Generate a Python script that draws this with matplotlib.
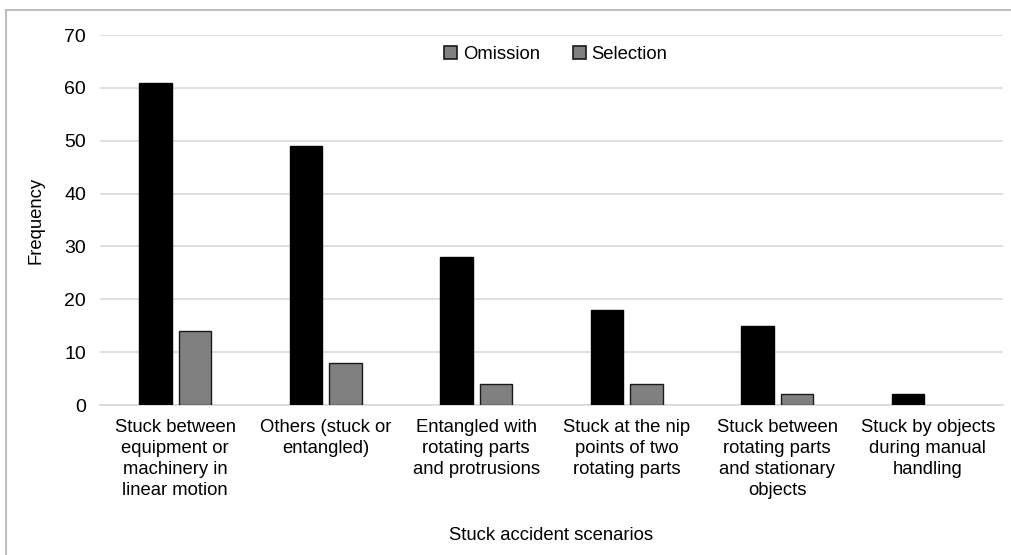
import matplotlib
matplotlib.use("Agg")
import matplotlib.pyplot as plt
from matplotlib.patches import Rectangle, Patch
import numpy as np

plt.rcParams['font.family'] = ['Liberation Sans', 'DejaVu Sans']

categories = [
    "Stuck between\nequipment or\nmachinery in\nlinear motion",
    "Others (stuck or\nentangled)",
    "Entangled with\nrotating parts\nand protrusions",
    "Stuck at the nip\npoints of two\nrotating parts",
    "Stuck between\nrotating parts\nand stationary\nobjects",
    "Stuck by objects\nduring manual\nhandling",
]
omission = [61, 49, 28, 18, 15, 2]
selection = [14, 8, 4, 4, 2, 0]
series_names = ["Omission", "Selection"]
yticks = [0, 10, 20, 30, 40, 50, 60, 70]

W, H = 1012, 555
fig = plt.figure(figsize=(W / 100, H / 100), dpi=100)
ax = fig.add_axes([100 / W, 1 - 405 / H, 903 / W, 370 / H])

x = np.arange(len(categories))
bw = 0.215
off = 0.132
ax.bar(x - off, omission, bw, color="black", edgecolor="black", linewidth=1, zorder=3)
ax.bar(x + off, [v if v > 0 else np.nan for v in selection], bw, color="#808080",
       edgecolor="#1a1a1a", linewidth=1, zorder=3)

ax.set_xlim(-0.5, len(categories) - 0.5)
ax.set_ylim(0, 70)
ax.set_yticks(yticks)
ax.set_yticklabels([str(t) for t in yticks], fontsize=14)
ax.set_xticks(x)
ax.set_xticklabels(categories, fontsize=13.3, linespacing=1.3, va="top")
ax.tick_params(axis="both", length=0)
ax.tick_params(axis="y", pad=10)
ax.tick_params(axis="x", pad=10)
ax.grid(axis="y", color="#d9d9d9", linewidth=1.2, zorder=0)
for s in ["top", "right", "left"]:
    ax.spines[s].set_visible(False)
ax.spines["bottom"].set_color("#d9d9d9")
ax.spines["bottom"].set_linewidth(1.2)

ax.set_ylabel("Frequency", fontsize=13.3, labelpad=14)
fig.text(551 / W, 1 - 535 / H, "Stuck accident scenarios", fontsize=13.3,
         ha="center", va="center")

handles = [Patch(facecolor="#808080", edgecolor="#1a1a1a", linewidth=1.2),
           Patch(facecolor="#808080", edgecolor="#1a1a1a", linewidth=1.2)]
leg = ax.legend(handles, series_names, loc="upper center", bbox_to_anchor=(0.505, 1.0),
                ncol=2, frameon=False, fontsize=13.3, handlelength=0.7, handleheight=0.7,
                handletextpad=0.3, columnspacing=1.8, borderaxespad=0.2)

fig.patches.append(Rectangle((6 / W, -0.1), 1.2, 1 - 10 / H + 0.1,
                             transform=fig.transFigure, fill=False,
                             edgecolor="#bdbdbd", linewidth=1.5))

fig.savefig("out.png", dpi=100)
